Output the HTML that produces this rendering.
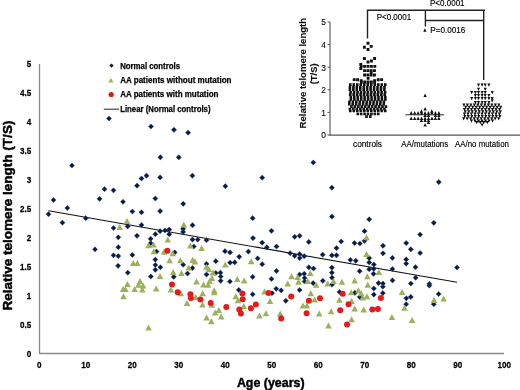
<!DOCTYPE html>
<html><head><meta charset="utf-8"><style>
html,body{margin:0;padding:0;background:#fff;width:520px;height:390px;overflow:hidden}
svg{display:block;filter:blur(0.35px)}
text{font-family:"Liberation Sans", sans-serif}
.tk{font-size:8.8px;font-weight:bold;fill:#000;stroke:#000;stroke-width:0.25}
.at{font-size:13.2px;font-weight:bold;fill:#000;stroke:#000;stroke-width:0.45}
.lg{font-size:8.8px;font-weight:bold;fill:#000;stroke:#000;stroke-width:0.25}
.it{font-size:8.4px;fill:#000;stroke:#000;stroke-width:0.1}
.ititle{font-size:9.6px;font-weight:bold;fill:#111;stroke:#111;stroke-width:0.12}
.il{font-size:8.8px;fill:#000;stroke:#000;stroke-width:0.15}
.ip{font-size:9.2px;fill:#000;stroke:#000;stroke-width:0.15}
</style></head><body>
<svg width="520" height="390" viewBox="0 0 520 390">
<rect width="520" height="390" fill="#fff"/>
<line x1="39.5" y1="63.9" x2="39.5" y2="354" stroke="#8a8a8a" stroke-width="1.3"/>
<line x1="39" y1="353.5" x2="504" y2="353.5" stroke="#8a8a8a" stroke-width="1.3"/>
<text x="31.3" y="356.9" text-anchor="end" class="tk" transform="translate(31.3,0) scale(0.92,1) translate(-31.3,0)">0</text>
<text x="31.3" y="327.9" text-anchor="end" class="tk" transform="translate(31.3,0) scale(0.92,1) translate(-31.3,0)">0.5</text>
<text x="31.3" y="299.0" text-anchor="end" class="tk" transform="translate(31.3,0) scale(0.92,1) translate(-31.3,0)">1</text>
<text x="31.3" y="270.0" text-anchor="end" class="tk" transform="translate(31.3,0) scale(0.92,1) translate(-31.3,0)">1.5</text>
<text x="31.3" y="241.1" text-anchor="end" class="tk" transform="translate(31.3,0) scale(0.92,1) translate(-31.3,0)">2</text>
<text x="31.3" y="212.2" text-anchor="end" class="tk" transform="translate(31.3,0) scale(0.92,1) translate(-31.3,0)">2.5</text>
<text x="31.3" y="183.2" text-anchor="end" class="tk" transform="translate(31.3,0) scale(0.92,1) translate(-31.3,0)">3</text>
<text x="31.3" y="154.2" text-anchor="end" class="tk" transform="translate(31.3,0) scale(0.92,1) translate(-31.3,0)">3.5</text>
<text x="31.3" y="125.3" text-anchor="end" class="tk" transform="translate(31.3,0) scale(0.92,1) translate(-31.3,0)">4</text>
<text x="31.3" y="96.3" text-anchor="end" class="tk" transform="translate(31.3,0) scale(0.92,1) translate(-31.3,0)">4.5</text>
<text x="31.3" y="67.4" text-anchor="end" class="tk" transform="translate(31.3,0) scale(0.92,1) translate(-31.3,0)">5</text>
<text x="39.2" y="368.5" text-anchor="middle" class="tk" transform="translate(39.2,0) scale(0.92,1) translate(-39.2,0)">0</text>
<text x="85.7" y="368.5" text-anchor="middle" class="tk" transform="translate(85.7,0) scale(0.92,1) translate(-85.7,0)">10</text>
<text x="132.2" y="368.5" text-anchor="middle" class="tk" transform="translate(132.2,0) scale(0.92,1) translate(-132.2,0)">20</text>
<text x="178.7" y="368.5" text-anchor="middle" class="tk" transform="translate(178.7,0) scale(0.92,1) translate(-178.7,0)">30</text>
<text x="225.2" y="368.5" text-anchor="middle" class="tk" transform="translate(225.2,0) scale(0.92,1) translate(-225.2,0)">40</text>
<text x="271.7" y="368.5" text-anchor="middle" class="tk" transform="translate(271.7,0) scale(0.92,1) translate(-271.7,0)">50</text>
<text x="318.2" y="368.5" text-anchor="middle" class="tk" transform="translate(318.2,0) scale(0.92,1) translate(-318.2,0)">60</text>
<text x="364.7" y="368.5" text-anchor="middle" class="tk" transform="translate(364.7,0) scale(0.92,1) translate(-364.7,0)">70</text>
<text x="411.2" y="368.5" text-anchor="middle" class="tk" transform="translate(411.2,0) scale(0.92,1) translate(-411.2,0)">80</text>
<text x="457.7" y="368.5" text-anchor="middle" class="tk" transform="translate(457.7,0) scale(0.92,1) translate(-457.7,0)">90</text>
<text x="504.2" y="368.5" text-anchor="middle" class="tk" transform="translate(504.2,0) scale(0.92,1) translate(-504.2,0)">100</text>
<text x="236.9" y="387.3" class="at" textLength="67.7" lengthAdjust="spacingAndGlyphs">Age (years)</text>
<text transform="translate(11.6,310.6) rotate(-90)" x="0" y="0" class="at" textLength="190" lengthAdjust="spacingAndGlyphs">Relative telomere length (T/S)</text>
<path d="M111.5,63.4 L113.7,65.6 L111.5,67.8 L109.3,65.6 Z" fill="#0d1a3a"/>
<path d="M110.9,78.0 L113.5,82.6 L108.3,82.6 Z" fill="#9bb45e"/>
<circle cx="111.2" cy="94.5" r="2.6" fill="#e01818"/>
<line x1="103.8" y1="109.2" x2="119.2" y2="109.2" stroke="#222" stroke-width="1"/>
<text x="120.2" y="68.6" class="lg" textLength="59.8" lengthAdjust="spacingAndGlyphs">Normal controls</text>
<text x="120.2" y="82.9" class="lg" textLength="111.3" lengthAdjust="spacingAndGlyphs">AA patients without mutation</text>
<text x="120.2" y="97.2" class="lg" textLength="98.3" lengthAdjust="spacingAndGlyphs">AA patients with mutation</text>
<text x="120.2" y="111.5" class="lg" textLength="90.3" lengthAdjust="spacingAndGlyphs">Linear (Normal controls)</text>
<line x1="48.5" y1="210.8" x2="457" y2="282.3" stroke="#111" stroke-width="1.1"/>
<path fill="#0c1a40" stroke="#22427a" stroke-width="0.5" d="M109.0,116.0L111.5,118.5L109.0,121.0L106.5,118.5ZM151.0,124.0L153.6,126.5L151.0,129.1L148.4,126.5ZM174.0,127.3L176.6,129.8L174.0,132.4L171.4,129.8ZM188.1,130.1L190.7,132.7L188.1,135.2L185.5,132.7ZM160.4,154.8L163.0,157.3L160.4,159.9L157.8,157.3ZM178.8,154.8L181.4,157.3L178.8,159.9L176.2,157.3ZM313.3,159.9L315.9,162.5L313.3,165.1L310.8,162.5ZM71.9,162.9L74.5,165.5L71.9,168.1L69.4,165.5ZM141.5,175.9L144.1,178.5L141.5,181.1L138.9,178.5ZM146.5,173.1L149.1,175.7L146.5,178.2L143.9,175.7ZM160.1,174.8L162.7,177.4L160.1,180.0L157.5,177.4ZM192.4,173.1L195.0,175.7L192.4,178.2L189.8,175.7ZM137.0,183.1L139.6,185.7L137.0,188.2L134.4,185.7ZM104.5,186.6L107.0,189.2L104.5,191.8L102.0,189.2ZM113.5,187.8L116.0,190.3L113.5,192.9L111.0,190.3ZM53.5,197.4L56.0,200.0L53.5,202.6L51.0,200.0ZM99.6,196.2L102.1,198.8L99.6,201.4L97.0,198.8ZM123.0,199.2L125.5,201.8L123.0,204.4L120.5,201.8ZM155.3,195.9L157.9,198.5L155.3,201.1L152.8,198.5ZM183.2,201.2L185.8,203.8L183.2,206.4L180.6,203.8ZM67.3,205.4L69.8,208.0L67.3,210.6L64.8,208.0ZM132.4,208.9L135.0,211.5L132.4,214.1L129.8,211.5ZM141.5,209.8L144.1,212.3L141.5,214.9L138.9,212.3ZM160.1,208.5L162.7,211.1L160.1,213.7L157.5,211.1ZM48.5,211.6L51.0,214.2L48.5,216.8L46.0,214.2ZM85.8,215.6L88.3,218.2L85.8,220.8L83.2,218.2ZM225.3,183.6L227.9,186.2L225.3,188.8L222.8,186.2ZM262.2,175.1L264.8,177.7L262.2,180.2L259.6,177.7ZM252.7,215.6L255.2,218.2L252.7,220.8L250.1,218.2ZM331.9,185.1L334.4,187.7L331.9,190.2L329.3,187.7ZM331.9,214.0L334.4,216.6L331.9,219.2L329.3,216.6ZM438.8,179.5L441.4,182.1L438.8,184.7L436.2,182.1ZM62.4,220.1L65.0,222.7L62.4,225.2L59.9,222.7ZM113.5,225.4L116.0,228.0L113.5,230.6L111.0,228.0ZM95.0,246.8L97.5,249.3L95.0,251.9L92.5,249.3ZM113.5,252.8L116.0,255.3L113.5,257.9L111.0,255.3ZM127.6,223.8L130.2,226.4L127.6,229.0L125.0,226.4ZM141.5,222.4L144.1,225.0L141.5,227.6L138.9,225.0ZM160.1,228.6L162.7,231.2L160.1,233.8L157.5,231.2ZM165.0,227.8L167.6,230.4L165.0,233.0L162.4,230.4ZM169.2,227.0L171.8,229.6L169.2,232.2L166.6,229.6ZM169.2,231.6L171.8,234.2L169.2,236.8L166.6,234.2ZM183.1,226.2L185.7,228.8L183.1,231.4L180.5,228.8ZM183.1,229.3L185.7,231.9L183.1,234.5L180.5,231.9ZM192.5,222.6L195.1,225.2L192.5,227.8L189.9,225.2ZM155.3,231.6L157.9,234.2L155.3,236.8L152.8,234.2ZM137.0,233.2L139.6,235.8L137.0,238.4L134.4,235.8ZM118.3,234.8L120.8,237.3L118.3,239.9L115.8,237.3ZM150.7,236.2L153.2,238.8L150.7,241.4L148.1,238.8ZM150.7,240.6L153.2,243.2L150.7,245.8L148.1,243.2ZM192.5,237.0L195.1,239.6L192.5,242.2L189.9,239.6ZM197.7,237.0L200.2,239.6L197.7,242.2L195.1,239.6ZM206.5,237.6L209.1,240.2L206.5,242.8L203.9,240.2ZM193.8,243.9L196.4,246.5L193.8,249.1L191.2,246.5ZM118.3,244.6L120.8,247.2L118.3,249.8L115.8,247.2ZM156.5,248.9L159.1,251.5L156.5,254.1L153.9,251.5ZM174.7,249.8L177.2,252.4L174.7,255.0L172.1,252.4ZM118.3,253.6L120.8,256.1L118.3,258.7L115.8,256.1ZM132.3,252.3L134.9,254.9L132.3,257.4L129.8,254.9ZM155.3,257.1L157.9,259.6L155.3,262.2L152.8,259.6ZM155.3,262.4L157.9,265.0L155.3,267.6L152.8,265.0ZM160.4,264.8L163.0,267.3L160.4,269.9L157.8,267.3ZM155.3,267.2L157.9,269.8L155.3,272.4L152.8,269.8ZM118.1,263.2L120.6,265.8L118.1,268.4L115.5,265.8ZM127.8,270.1L130.3,272.7L127.8,275.2L125.2,272.7ZM183.2,262.1L185.8,264.7L183.2,267.2L180.6,264.7ZM192.4,265.6L195.0,268.1L192.4,270.7L189.8,268.1ZM187.5,270.9L190.1,273.5L187.5,276.1L184.9,273.5ZM271.5,228.2L274.1,230.8L271.5,233.4L268.9,230.8ZM253.0,235.5L255.6,238.1L253.0,240.7L250.4,238.1ZM262.2,240.1L264.8,242.7L262.2,245.2L259.6,242.7ZM266.8,244.8L269.4,247.3L266.8,249.9L264.2,247.3ZM225.0,248.6L227.6,251.2L225.0,253.8L222.4,251.2ZM230.1,249.8L232.7,252.4L230.1,255.0L227.5,252.4ZM248.4,249.0L251.0,251.6L248.4,254.2L245.8,251.6ZM239.2,254.2L241.8,256.8L239.2,259.4L236.6,256.8ZM257.6,255.8L260.2,258.4L257.6,260.9L255.1,258.4ZM215.8,258.6L218.4,261.2L215.8,263.8L213.2,261.2ZM230.1,260.1L232.7,262.7L230.1,265.2L227.5,262.7ZM234.7,259.8L237.2,262.4L234.7,264.9L232.1,262.4ZM262.2,261.6L264.8,264.2L262.2,266.8L259.6,264.2ZM206.5,261.3L209.1,263.9L206.5,266.4L203.9,263.9ZM220.4,270.1L223.0,272.7L220.4,275.2L217.8,272.7ZM215.8,270.4L218.4,273.0L215.8,275.6L213.2,273.0ZM206.5,271.9L209.1,274.5L206.5,277.1L203.9,274.5ZM294.7,234.2L297.2,236.8L294.7,239.4L292.1,236.8ZM299.6,233.2L302.2,235.8L299.6,238.4L297.1,235.8ZM308.8,239.3L311.4,241.9L308.8,244.5L306.2,241.9ZM341.2,238.9L343.8,241.5L341.2,244.1L338.6,241.5ZM354.5,240.4L357.1,243.0L354.5,245.6L351.9,243.0ZM276.5,243.9L279.1,246.5L276.5,249.1L273.9,246.5ZM336.5,245.5L339.1,248.1L336.5,250.7L333.9,248.1ZM290.1,250.6L292.7,253.2L290.1,255.8L287.6,253.2ZM294.7,253.2L297.2,255.8L294.7,258.4L292.1,255.8ZM299.6,251.6L302.2,254.2L299.6,256.8L297.1,254.2ZM299.6,255.6L302.2,258.1L299.6,260.7L297.1,258.1ZM304.2,253.6L306.8,256.2L304.2,258.8L301.6,256.2ZM322.7,252.1L325.2,254.7L322.7,257.2L320.1,254.7ZM331.9,252.8L334.4,255.3L331.9,257.9L329.3,255.3ZM336.5,252.8L339.1,255.3L336.5,257.9L333.9,255.3ZM350.4,257.3L352.9,259.9L350.4,262.4L347.8,259.9ZM308.8,264.8L311.4,267.3L308.8,269.9L306.2,267.3ZM313.5,265.9L316.1,268.5L313.5,271.1L310.9,268.5ZM331.9,265.1L334.4,267.6L331.9,270.2L329.3,267.6ZM331.9,270.1L334.4,272.7L331.9,275.2L329.3,272.7ZM276.5,268.3L279.1,270.9L276.5,273.4L273.9,270.9ZM299.6,271.9L302.2,274.5L299.6,277.1L297.1,274.5ZM304.2,271.2L306.8,273.8L304.2,276.4L301.6,273.8ZM369.2,216.8L371.8,219.3L369.2,221.9L366.6,219.3ZM433.8,220.2L436.4,222.8L433.8,225.4L431.2,222.8ZM364.5,228.6L367.1,231.2L364.5,233.8L361.9,231.2ZM420.1,232.0L422.7,234.6L420.1,237.2L417.6,234.6ZM359.9,240.9L362.4,243.5L359.9,246.1L357.3,243.5ZM364.5,238.2L367.1,240.8L364.5,243.4L361.9,240.8ZM383.0,243.2L385.6,245.8L383.0,248.4L380.4,245.8ZM406.2,240.5L408.8,243.1L406.2,245.7L403.6,243.1ZM410.8,246.8L413.4,249.3L410.8,251.9L408.2,249.3ZM420.1,250.4L422.7,253.0L420.1,255.6L417.6,253.0ZM383.0,250.8L385.6,253.3L383.0,255.9L380.4,253.3ZM392.4,255.3L394.9,257.9L392.4,260.4L389.8,257.9ZM406.2,256.8L408.8,259.4L406.2,261.9L403.6,259.4ZM406.2,261.1L408.8,263.6L406.2,266.2L403.6,263.6ZM369.2,255.6L371.8,258.1L369.2,260.7L366.6,258.1ZM355.8,258.2L358.4,260.8L355.8,263.4L353.2,260.8ZM369.2,259.8L371.8,262.4L369.2,264.9L366.6,262.4ZM373.8,261.9L376.4,264.5L373.8,267.1L371.2,264.5ZM369.2,266.6L371.8,269.2L369.2,271.8L366.6,269.2ZM373.8,266.2L376.4,268.8L373.8,271.4L371.2,268.8ZM392.4,266.4L394.9,269.0L392.4,271.6L389.8,269.0ZM415.5,264.6L418.1,267.2L415.5,269.8L412.9,267.2ZM359.6,268.6L362.2,271.2L359.6,273.8L357.1,271.2ZM457.0,264.9L459.6,267.5L457.0,270.1L454.4,267.5ZM415.6,275.1L418.2,277.7L415.6,280.2L413.1,277.7ZM392.5,277.8L395.1,280.4L392.5,282.9L389.9,280.4ZM382.9,280.9L385.4,283.5L382.9,286.1L380.3,283.5ZM382.9,284.1L385.4,286.7L382.9,289.2L380.3,286.7ZM410.8,280.9L413.4,283.5L410.8,286.1L408.2,283.5ZM429.4,281.2L431.9,283.8L429.4,286.4L426.8,283.8ZM429.4,283.1L431.9,285.6L429.4,288.2L426.8,285.6ZM382.9,290.6L385.4,293.1L382.9,295.7L380.3,293.1ZM438.7,291.4L441.2,294.0L438.7,296.6L436.1,294.0ZM406.3,295.8L408.9,298.3L406.3,300.9L403.8,298.3ZM410.8,294.3L413.4,296.9L410.8,299.4L408.2,296.9ZM150.8,273.9L153.4,276.5L150.8,279.1L148.2,276.5ZM173.8,274.3L176.4,276.9L173.8,279.4L171.2,276.9ZM220.7,273.9L223.2,276.5L220.7,279.1L218.1,276.5ZM220.7,278.2L223.2,280.8L220.7,283.4L218.1,280.8ZM229.9,278.9L232.5,281.5L229.9,284.1L227.3,281.5ZM252.7,274.3L255.2,276.9L252.7,279.4L250.1,276.9ZM238.8,287.4L241.4,290.0L238.8,292.6L236.2,290.0ZM252.7,291.8L255.2,294.3L252.7,296.9L250.1,294.3ZM271.5,276.3L274.1,278.9L271.5,281.4L268.9,278.9ZM304.6,275.4L307.2,278.0L304.6,280.6L302.1,278.0ZM304.6,278.9L307.2,281.5L304.6,284.1L302.1,281.5ZM313.1,280.6L315.7,283.1L313.1,285.7L310.6,283.1ZM322.8,278.2L325.4,280.8L322.8,283.4L320.2,280.8ZM332.0,275.1L334.6,277.7L332.0,280.2L329.4,277.7ZM332.0,282.1L334.6,284.6L332.0,287.2L329.4,284.6ZM276.2,286.2L278.8,288.8L276.2,291.4L273.6,288.8ZM281.1,287.8L283.7,290.3L281.1,292.9L278.6,290.3ZM272.0,290.6L274.6,293.1L272.0,295.7L269.4,293.1ZM299.7,287.4L302.2,290.0L299.7,292.6L297.1,290.0ZM285.8,298.2L288.4,300.8L285.8,303.4L283.2,300.8ZM339.5,289.4L342.1,292.0L339.5,294.6L336.9,292.0ZM373.5,271.2L376.1,273.8L373.5,276.4L370.9,273.8ZM378.5,280.6L381.1,283.1L378.5,285.7L375.9,283.1ZM373.8,285.9L376.4,288.5L373.8,291.1L371.2,288.5ZM373.8,292.1L376.4,294.6L373.8,297.2L371.2,294.6ZM355.0,290.2L357.6,292.8L355.0,295.4L352.4,292.8ZM359.6,294.3L362.2,296.9L359.6,299.4L357.1,296.9ZM406.1,301.6L408.7,304.2L406.1,306.8L403.6,304.2ZM433.8,301.6L436.4,304.2L433.8,306.8L431.2,304.2Z"/>
<path fill="#9bb15c" d="M127.0,218.1L130.3,224.1L123.7,224.1ZM119.7,223.9L123.0,229.9L116.4,229.9ZM183.8,221.6L187.1,227.6L180.5,227.6ZM167.8,236.5L171.1,242.5L164.5,242.5ZM148.5,242.2L151.8,248.2L145.2,248.2ZM153.5,241.4L156.8,247.4L150.2,247.4ZM153.9,248.3L157.2,254.3L150.6,254.3ZM164.0,248.8L167.3,254.8L160.7,254.8ZM172.7,250.2L176.0,256.2L169.4,256.2ZM169.6,257.2L172.9,263.2L166.3,263.2ZM180.4,257.2L183.7,263.2L177.1,263.2ZM190.4,242.6L193.7,248.6L187.1,248.6ZM133.2,259.9L136.5,265.9L129.9,265.9ZM137.3,259.9L140.6,265.9L134.0,265.9ZM188.8,264.5L192.1,270.5L185.5,270.5ZM192.7,256.8L196.0,262.8L189.4,262.8ZM173.2,269.1L176.5,275.1L169.9,275.1ZM181.5,269.9L184.8,275.9L178.2,275.9ZM201.6,244.9L204.9,250.9L198.3,250.9ZM225.3,261.4L228.6,267.4L222.0,267.4ZM251.2,258.3L254.5,264.3L247.9,264.3ZM195.0,258.4L198.3,264.4L191.7,264.4ZM206.5,263.7L209.8,269.7L203.2,269.7ZM208.8,266.0L212.1,272.0L205.5,272.0ZM213.0,269.6L216.3,275.6L209.7,275.6ZM310.3,269.9L313.6,275.9L307.0,275.9ZM366.5,234.2L369.8,240.2L363.2,240.2ZM366.5,251.1L369.8,257.1L363.2,257.1ZM378.8,268.9L382.1,274.9L375.5,274.9ZM402.1,289.1L405.4,295.1L398.8,295.1ZM434.0,296.9L437.3,302.9L430.7,302.9ZM443.6,295.4L446.9,301.4L440.3,301.4ZM160.0,272.9L163.3,278.9L156.7,278.9ZM127.4,281.0L130.7,287.0L124.1,287.0ZM123.1,286.1L126.4,292.1L119.8,292.1ZM125.4,286.1L128.7,292.1L122.1,292.1ZM123.5,293.3L126.8,299.3L120.2,299.3ZM134.6,286.1L137.9,292.1L131.3,292.1ZM140.0,277.9L143.3,283.9L136.7,283.9ZM138.5,281.8L141.8,287.8L135.2,287.8ZM143.1,282.6L146.4,288.6L139.8,288.6ZM142.3,286.4L145.6,292.4L139.0,292.4ZM156.2,285.6L159.5,291.6L152.9,291.6ZM170.8,286.4L174.1,292.4L167.5,292.4ZM180.8,290.2L184.1,296.2L177.5,296.2ZM187.0,299.9L190.3,305.9L183.7,305.9ZM148.5,324.4L151.8,330.4L145.2,330.4ZM196.5,278.4L199.8,284.4L193.2,284.4ZM203.5,281.5L206.8,287.5L200.2,287.5ZM208.1,281.8L211.4,287.8L204.8,287.8ZM209.6,277.9L212.9,283.9L206.3,283.9ZM211.9,274.9L215.2,280.9L208.6,280.9ZM214.2,287.2L217.5,293.2L210.9,293.2ZM214.2,289.2L217.5,295.2L210.9,295.2ZM202.7,290.2L206.0,296.2L199.4,296.2ZM195.8,294.1L199.1,300.1L192.5,300.1ZM202.5,301.6L205.8,307.6L199.2,307.6ZM211.9,301.8L215.2,307.8L208.6,307.8ZM237.3,275.9L240.6,281.9L234.0,281.9ZM244.2,277.5L247.5,283.5L240.9,283.5ZM235.8,293.3L239.1,299.3L232.5,299.3ZM238.1,297.2L241.4,303.2L234.8,303.2ZM243.8,302.9L247.1,308.9L240.5,308.9ZM215.2,309.5L218.5,315.5L211.9,315.5ZM218.8,307.0L222.1,313.0L215.5,313.0ZM221.2,313.5L224.5,319.5L217.9,319.5ZM206.6,314.5L209.9,320.5L203.3,320.5ZM211.3,318.2L214.6,324.2L208.0,324.2ZM259.4,312.6L262.7,318.6L256.1,318.6ZM264.5,288.4L267.8,294.4L261.2,294.4ZM291.5,273.3L294.8,279.3L288.2,279.3ZM297.7,274.1L301.0,280.1L294.4,280.1ZM298.5,278.7L301.8,284.7L295.2,284.7ZM287.7,280.6L291.0,286.6L284.4,286.6ZM307.7,277.9L311.0,283.9L304.4,283.9ZM316.2,281.8L319.5,287.8L312.9,287.8ZM327.7,280.6L331.0,286.6L324.4,286.6ZM333.5,277.9L336.8,283.9L330.2,283.9ZM270.0,297.9L273.3,303.9L266.7,303.9ZM310.8,290.2L314.1,296.2L307.5,296.2ZM314.6,296.4L317.9,302.4L311.3,302.4ZM303.0,302.4L306.3,308.4L299.7,308.4ZM306.8,302.4L310.1,308.4L303.5,308.4ZM266.0,310.2L269.3,316.2L262.7,316.2ZM280.2,310.6L283.5,316.6L276.9,316.6ZM319.2,310.6L322.5,316.6L315.9,316.6ZM331.1,308.2L334.4,314.2L327.8,314.2ZM328.5,322.5L331.8,328.5L325.2,328.5ZM339.4,296.7L342.7,302.7L336.1,302.7ZM341.9,278.7L345.2,284.7L338.6,284.7ZM354.7,277.5L358.0,283.5L351.4,283.5ZM367.3,273.3L370.6,279.3L364.0,279.3ZM367.8,281.8L371.1,287.8L364.5,287.8ZM351.2,289.2L354.5,295.2L347.9,295.2ZM358.4,287.2L361.7,293.2L355.1,293.2ZM361.2,290.2L364.5,296.2L357.9,296.2ZM362.7,294.4L366.0,300.4L359.4,300.4ZM367.0,293.3L370.3,299.3L363.7,299.3ZM351.6,297.9L354.9,303.9L348.3,303.9ZM354.7,305.4L358.0,311.4L351.4,311.4ZM363.7,306.4L367.0,312.4L360.4,312.4ZM404.5,304.8L407.8,310.8L401.2,310.8ZM391.9,314.0L395.2,320.0L388.6,320.0ZM351.6,316.3L354.9,322.3L348.3,322.3ZM412.1,317.0L415.4,323.0L408.8,323.0Z"/>
<circle cx="167.3" cy="250.7" r="3.0" fill="#e41a1c"/>
<circle cx="172" cy="284.6" r="3.0" fill="#e41a1c"/>
<circle cx="177.7" cy="292.3" r="3.0" fill="#e41a1c"/>
<circle cx="190.4" cy="294.3" r="3.0" fill="#e41a1c"/>
<circle cx="190.8" cy="298" r="3.0" fill="#e41a1c"/>
<circle cx="200.4" cy="299.5" r="3.0" fill="#e41a1c"/>
<circle cx="210.7" cy="302.9" r="3.0" fill="#e41a1c"/>
<circle cx="226.3" cy="307" r="3.0" fill="#e41a1c"/>
<circle cx="242.4" cy="293.4" r="3.0" fill="#e41a1c"/>
<circle cx="242.7" cy="299.2" r="3.0" fill="#e41a1c"/>
<circle cx="239.3" cy="309.5" r="3.0" fill="#e41a1c"/>
<circle cx="240.9" cy="313.5" r="3.0" fill="#e41a1c"/>
<circle cx="250.9" cy="308.2" r="3.0" fill="#e41a1c"/>
<circle cx="255.8" cy="304.4" r="3.0" fill="#e41a1c"/>
<circle cx="268.5" cy="293.1" r="3.0" fill="#e41a1c"/>
<circle cx="291.2" cy="296.5" r="3.0" fill="#e41a1c"/>
<circle cx="308.9" cy="300.8" r="3.0" fill="#e41a1c"/>
<circle cx="320" cy="298.2" r="3.0" fill="#e41a1c"/>
<circle cx="306.6" cy="313.3" r="3.0" fill="#e41a1c"/>
<circle cx="281.2" cy="318.6" r="3.0" fill="#e41a1c"/>
<circle cx="340.2" cy="310.3" r="3.0" fill="#e41a1c"/>
<circle cx="342.7" cy="293.8" r="3.0" fill="#e41a1c"/>
<circle cx="348.5" cy="304.2" r="3.0" fill="#e41a1c"/>
<circle cx="372.3" cy="309.6" r="3.0" fill="#e41a1c"/>
<circle cx="377.9" cy="309.1" r="3.0" fill="#e41a1c"/>
<circle cx="380.9" cy="298" r="3.0" fill="#e41a1c"/>
<circle cx="347" cy="324.6" r="3.0" fill="#e41a1c"/>
<line x1="330" y1="22" x2="330" y2="135.6" stroke="#555" stroke-width="1.1"/>
<line x1="329.5" y1="135.1" x2="520" y2="135.1" stroke="#555" stroke-width="1.1"/>
<line x1="327.5" y1="135.0" x2="330" y2="135.0" stroke="#555" stroke-width="1"/>
<text x="326" y="138.4" text-anchor="end" class="it">0</text>
<line x1="327.5" y1="112.4" x2="330" y2="112.4" stroke="#555" stroke-width="1"/>
<text x="326" y="115.8" text-anchor="end" class="it">1</text>
<line x1="327.5" y1="89.8" x2="330" y2="89.8" stroke="#555" stroke-width="1"/>
<text x="326" y="93.2" text-anchor="end" class="it">2</text>
<line x1="327.5" y1="67.2" x2="330" y2="67.2" stroke="#555" stroke-width="1"/>
<text x="326" y="70.6" text-anchor="end" class="it">3</text>
<line x1="327.5" y1="44.6" x2="330" y2="44.6" stroke="#555" stroke-width="1"/>
<text x="326" y="48.0" text-anchor="end" class="it">4</text>
<line x1="327.5" y1="22.0" x2="330" y2="22.0" stroke="#555" stroke-width="1"/>
<text x="326" y="25.4" text-anchor="end" class="it">5</text>
<text transform="translate(305.9,128.4) rotate(-90)" class="ititle" textLength="110.5" lengthAdjust="spacingAndGlyphs">Relative telomere length</text>
<text transform="translate(316.6,84.3) rotate(-90)" class="ititle" textLength="21" lengthAdjust="spacingAndGlyphs">(T/S)</text>
<text x="353" y="146.7" class="il" textLength="29" lengthAdjust="spacingAndGlyphs">controls</text>
<text x="401.3" y="146.7" class="il" textLength="46.9" lengthAdjust="spacingAndGlyphs">AA/mutations</text>
<text x="455" y="146.7" class="il" textLength="53.9" lengthAdjust="spacingAndGlyphs">AA/no mutation</text>
<path d="M367.5,38.6 V10.3 H485 M483.7,10.3 V80" fill="none" stroke="#222" stroke-width="1.4"/>
<path d="M425.4,10.3 V26.5 M425.4,20.5 H483.7" fill="none" stroke="#222" stroke-width="1.4"/>
<text x="430" y="6.2" class="ip" textLength="34.6" lengthAdjust="spacingAndGlyphs">P&lt;0.0001</text>
<text x="376.7" y="20.2" class="ip" textLength="34.5" lengthAdjust="spacingAndGlyphs">P&lt;0.0001</text>
<text x="430.3" y="33" class="ip" textLength="35" lengthAdjust="spacingAndGlyphs">P=0.0016</text>
<path fill="#111" d="M366.55,41.75h2.9v2.9h-2.9zM362.95,45.85h2.9v2.9h-2.9zM369.75,44.95h2.9v2.9h-2.9zM366.55,48.05h2.9v2.9h-2.9zM362.95,57.05h2.9v2.9h-2.9zM373.15,57.05h2.9v2.9h-2.9zM366.55,60.55h2.9v2.9h-2.9zM369.95,59.55h2.9v2.9h-2.9zM359.75,64.95h2.9v2.9h-2.9zM363.15,64.95h2.9v2.9h-2.9zM366.55,64.95h2.9v2.9h-2.9zM369.95,64.95h2.9v2.9h-2.9zM373.35,64.95h2.9v2.9h-2.9zM359.35,67.05h2.9v2.9h-2.9zM359.35,63.05h2.9v2.9h-2.9zM363.10,69.15h2.9v2.9h-2.9zM366.40,69.15h2.9v2.9h-2.9zM369.70,69.15h2.9v2.9h-2.9zM373.00,69.15h2.9v2.9h-2.9zM369.75,70.55h2.9v2.9h-2.9zM363.10,73.55h2.9v2.9h-2.9zM366.40,73.55h2.9v2.9h-2.9zM369.70,73.55h2.9v2.9h-2.9zM373.00,73.55h2.9v2.9h-2.9zM366.65,76.95h2.9v2.9h-2.9zM352.75,78.15h2.9v2.9h-2.9zM356.15,78.35h2.9v2.9h-2.9zM376.75,78.35h2.9v2.9h-2.9zM380.15,78.15h2.9v2.9h-2.9zM359.75,79.35h2.9v2.9h-2.9zM373.15,79.35h2.9v2.9h-2.9zM359.95,80.55h2.9v2.9h-2.9zM363.25,80.55h2.9v2.9h-2.9zM366.55,80.55h2.9v2.9h-2.9zM369.85,80.55h2.9v2.9h-2.9zM373.15,80.55h2.9v2.9h-2.9zM349.00,83.30h2.6v2.6h-2.6zM352.50,83.30h2.6v2.6h-2.6zM356.00,83.30h2.6v2.6h-2.6zM359.50,83.30h2.6v2.6h-2.6zM363.00,83.30h2.6v2.6h-2.6zM366.50,83.30h2.6v2.6h-2.6zM370.00,83.30h2.6v2.6h-2.6zM373.50,83.30h2.6v2.6h-2.6zM377.00,83.30h2.6v2.6h-2.6zM380.50,83.30h2.6v2.6h-2.6zM384.00,83.30h2.6v2.6h-2.6zM348.65,86.10h2.6v2.6h-2.6zM352.10,86.10h2.6v2.6h-2.6zM355.55,86.10h2.6v2.6h-2.6zM359.00,86.10h2.6v2.6h-2.6zM362.45,86.10h2.6v2.6h-2.6zM365.90,86.10h2.6v2.6h-2.6zM369.35,86.10h2.6v2.6h-2.6zM372.80,86.10h2.6v2.6h-2.6zM376.25,86.10h2.6v2.6h-2.6zM379.70,86.10h2.6v2.6h-2.6zM383.15,86.10h2.6v2.6h-2.6zM348.57,88.50h2.6v2.6h-2.6zM352.02,88.50h2.6v2.6h-2.6zM355.47,88.50h2.6v2.6h-2.6zM358.92,88.50h2.6v2.6h-2.6zM362.37,88.50h2.6v2.6h-2.6zM365.82,88.50h2.6v2.6h-2.6zM369.27,88.50h2.6v2.6h-2.6zM372.72,88.50h2.6v2.6h-2.6zM376.17,88.50h2.6v2.6h-2.6zM379.62,88.50h2.6v2.6h-2.6zM383.07,88.50h2.6v2.6h-2.6zM349.36,90.90h2.6v2.6h-2.6zM352.81,90.90h2.6v2.6h-2.6zM356.26,90.90h2.6v2.6h-2.6zM359.71,90.90h2.6v2.6h-2.6zM363.16,90.90h2.6v2.6h-2.6zM366.61,90.90h2.6v2.6h-2.6zM370.06,90.90h2.6v2.6h-2.6zM373.51,90.90h2.6v2.6h-2.6zM376.96,90.90h2.6v2.6h-2.6zM380.41,90.90h2.6v2.6h-2.6zM383.86,90.90h2.6v2.6h-2.6zM348.91,93.30h2.6v2.6h-2.6zM352.36,93.30h2.6v2.6h-2.6zM355.81,93.30h2.6v2.6h-2.6zM359.26,93.30h2.6v2.6h-2.6zM362.71,93.30h2.6v2.6h-2.6zM366.16,93.30h2.6v2.6h-2.6zM369.61,93.30h2.6v2.6h-2.6zM373.06,93.30h2.6v2.6h-2.6zM376.51,93.30h2.6v2.6h-2.6zM379.96,93.30h2.6v2.6h-2.6zM383.41,93.30h2.6v2.6h-2.6zM349.52,95.70h2.6v2.6h-2.6zM352.97,95.70h2.6v2.6h-2.6zM356.42,95.70h2.6v2.6h-2.6zM359.87,95.70h2.6v2.6h-2.6zM363.32,95.70h2.6v2.6h-2.6zM366.77,95.70h2.6v2.6h-2.6zM370.22,95.70h2.6v2.6h-2.6zM373.67,95.70h2.6v2.6h-2.6zM377.12,95.70h2.6v2.6h-2.6zM380.57,95.70h2.6v2.6h-2.6zM384.02,95.70h2.6v2.6h-2.6zM349.58,98.10h2.6v2.6h-2.6zM353.03,98.10h2.6v2.6h-2.6zM356.48,98.10h2.6v2.6h-2.6zM359.93,98.10h2.6v2.6h-2.6zM363.38,98.10h2.6v2.6h-2.6zM366.83,98.10h2.6v2.6h-2.6zM370.28,98.10h2.6v2.6h-2.6zM373.73,98.10h2.6v2.6h-2.6zM377.18,98.10h2.6v2.6h-2.6zM380.63,98.10h2.6v2.6h-2.6zM384.08,98.10h2.6v2.6h-2.6zM348.12,100.50h2.6v2.6h-2.6zM351.57,100.50h2.6v2.6h-2.6zM355.02,100.50h2.6v2.6h-2.6zM358.47,100.50h2.6v2.6h-2.6zM361.92,100.50h2.6v2.6h-2.6zM365.37,100.50h2.6v2.6h-2.6zM368.82,100.50h2.6v2.6h-2.6zM372.27,100.50h2.6v2.6h-2.6zM375.72,100.50h2.6v2.6h-2.6zM379.17,100.50h2.6v2.6h-2.6zM382.62,100.50h2.6v2.6h-2.6zM347.98,102.90h2.6v2.6h-2.6zM351.43,102.90h2.6v2.6h-2.6zM354.88,102.90h2.6v2.6h-2.6zM358.33,102.90h2.6v2.6h-2.6zM361.78,102.90h2.6v2.6h-2.6zM365.23,102.90h2.6v2.6h-2.6zM368.68,102.90h2.6v2.6h-2.6zM372.13,102.90h2.6v2.6h-2.6zM375.58,102.90h2.6v2.6h-2.6zM379.03,102.90h2.6v2.6h-2.6zM382.48,102.90h2.6v2.6h-2.6zM350.13,105.30h2.6v2.6h-2.6zM353.58,105.30h2.6v2.6h-2.6zM357.03,105.30h2.6v2.6h-2.6zM360.48,105.30h2.6v2.6h-2.6zM363.93,105.30h2.6v2.6h-2.6zM367.38,105.30h2.6v2.6h-2.6zM370.83,105.30h2.6v2.6h-2.6zM374.28,105.30h2.6v2.6h-2.6zM377.73,105.30h2.6v2.6h-2.6zM381.18,105.30h2.6v2.6h-2.6zM384.63,105.30h2.6v2.6h-2.6zM348.62,107.70h2.6v2.6h-2.6zM352.07,107.70h2.6v2.6h-2.6zM355.52,107.70h2.6v2.6h-2.6zM358.97,107.70h2.6v2.6h-2.6zM362.42,107.70h2.6v2.6h-2.6zM365.87,107.70h2.6v2.6h-2.6zM369.32,107.70h2.6v2.6h-2.6zM372.77,107.70h2.6v2.6h-2.6zM376.22,107.70h2.6v2.6h-2.6zM379.67,107.70h2.6v2.6h-2.6zM383.12,107.70h2.6v2.6h-2.6zM349.00,109.70h2.6v2.6h-2.6zM352.50,109.70h2.6v2.6h-2.6zM356.00,109.70h2.6v2.6h-2.6zM359.50,109.70h2.6v2.6h-2.6zM363.00,109.70h2.6v2.6h-2.6zM366.50,109.70h2.6v2.6h-2.6zM370.00,109.70h2.6v2.6h-2.6zM373.50,109.70h2.6v2.6h-2.6zM377.00,109.70h2.6v2.6h-2.6zM380.50,109.70h2.6v2.6h-2.6zM384.00,109.70h2.6v2.6h-2.6zM356.50,112.70h2.6v2.6h-2.6zM359.90,112.70h2.6v2.6h-2.6zM363.30,112.70h2.6v2.6h-2.6zM366.70,112.70h2.6v2.6h-2.6zM370.10,112.70h2.6v2.6h-2.6zM373.50,112.70h2.6v2.6h-2.6zM376.90,112.70h2.6v2.6h-2.6zM365.20,115.30h2.6v2.6h-2.6zM369.00,115.30h2.6v2.6h-2.6z"/>
<path fill="#111" d="M424.90,28.32L426.55,31.79L423.25,31.79ZM425.10,93.42L426.75,96.89L423.45,96.89ZM425.10,106.92L426.75,110.39L423.45,110.39ZM421.40,109.32L423.05,112.78L419.75,112.78ZM431.80,109.32L433.45,112.78L430.15,112.78ZM411.20,111.02L412.85,114.48L409.55,114.48ZM414.66,111.02L416.31,114.48L413.01,114.48ZM418.12,111.02L419.77,114.48L416.47,114.48ZM421.58,111.02L423.23,114.48L419.93,114.48ZM425.04,111.02L426.69,114.48L423.39,114.48ZM428.50,111.02L430.15,114.48L426.85,114.48ZM431.96,111.02L433.61,114.48L430.31,114.48ZM435.42,111.02L437.07,114.48L433.77,114.48ZM438.88,111.02L440.53,114.48L437.23,114.48ZM425.10,113.62L426.75,117.08L423.45,117.08ZM428.50,113.62L430.15,117.08L426.85,117.08ZM435.40,113.62L437.05,117.08L433.75,117.08ZM438.90,113.62L440.55,117.08L437.25,117.08ZM411.20,116.52L412.85,119.98L409.55,119.98ZM414.66,116.52L416.31,119.98L413.01,119.98ZM418.12,116.52L419.77,119.98L416.47,119.98ZM421.58,116.52L423.23,119.98L419.93,119.98ZM425.04,116.52L426.69,119.98L423.39,119.98ZM428.50,116.52L430.15,119.98L426.85,119.98ZM431.96,116.52L433.61,119.98L430.31,119.98ZM435.42,116.52L437.07,119.98L433.77,119.98ZM438.88,116.52L440.53,119.98L437.23,119.98ZM421.40,118.42L423.05,121.89L419.75,121.89ZM425.10,118.42L426.75,121.89L423.45,121.89ZM428.50,118.42L430.15,121.89L426.85,121.89ZM428.50,120.52L430.15,123.98L426.85,123.98ZM425.10,123.02L426.75,126.48L423.45,126.48Z"/>
<line x1="405.4" y1="114.8" x2="444" y2="114.8" stroke="#111" stroke-width="0.9"/>
<path fill="#111" d="M478.50,86.76L480.05,83.51L476.95,83.51ZM482.10,86.76L483.65,83.51L480.55,83.51ZM485.20,86.76L486.75,83.51L483.65,83.51ZM488.90,86.76L490.45,83.51L487.35,83.51ZM478.50,91.06L480.05,87.81L476.95,87.81ZM485.20,91.06L486.75,87.81L483.65,87.81ZM471.70,94.16L473.25,90.91L470.15,90.91ZM475.40,94.16L476.95,90.91L473.85,90.91ZM478.50,94.16L480.05,90.91L476.95,90.91ZM482.10,94.16L483.65,90.91L480.55,90.91ZM485.20,94.16L486.75,90.91L483.65,90.91ZM492.20,94.16L493.75,90.91L490.65,90.91ZM475.40,97.26L476.95,94.01L473.85,94.01ZM478.50,97.26L480.05,94.01L476.95,94.01ZM482.10,97.26L483.65,94.01L480.55,94.01ZM485.20,97.26L486.75,94.01L483.65,94.01ZM488.90,97.26L490.45,94.01L487.35,94.01ZM471.70,100.36L473.25,97.11L470.15,97.11ZM475.40,100.36L476.95,97.11L473.85,97.11ZM478.50,100.36L480.05,97.11L476.95,97.11ZM482.10,100.36L483.65,97.11L480.55,97.11ZM485.20,100.36L486.75,97.11L483.65,97.11ZM488.90,100.36L490.45,97.11L487.35,97.11ZM492.20,100.36L493.75,97.11L490.65,97.11ZM492.20,102.46L493.75,99.20L490.65,99.20ZM475.40,104.16L476.95,100.91L473.85,100.91ZM478.50,104.16L480.05,100.91L476.95,100.91ZM482.10,104.16L483.65,100.91L480.55,100.91ZM485.20,104.16L486.75,100.91L483.65,100.91ZM488.90,104.16L490.45,100.91L487.35,100.91ZM463.86,106.66L465.41,103.41L462.31,103.41ZM467.36,106.66L468.91,103.41L465.81,103.41ZM470.86,106.66L472.41,103.41L469.31,103.41ZM474.36,106.66L475.91,103.41L472.81,103.41ZM477.86,106.66L479.41,103.41L476.31,103.41ZM481.36,106.66L482.91,103.41L479.81,103.41ZM484.86,106.66L486.41,103.41L483.31,103.41ZM488.36,106.66L489.91,103.41L486.81,103.41ZM491.86,106.66L493.41,103.41L490.31,103.41ZM495.36,106.66L496.91,103.41L493.81,103.41ZM498.86,106.66L500.41,103.41L497.31,103.41ZM465.69,108.96L467.24,105.70L464.14,105.70ZM469.19,108.96L470.74,105.70L467.64,105.70ZM472.69,108.96L474.24,105.70L471.14,105.70ZM476.19,108.96L477.74,105.70L474.64,105.70ZM479.69,108.96L481.24,105.70L478.14,105.70ZM483.19,108.96L484.74,105.70L481.64,105.70ZM486.69,108.96L488.24,105.70L485.14,105.70ZM490.19,108.96L491.74,105.70L488.64,105.70ZM493.69,108.96L495.24,105.70L492.14,105.70ZM497.19,108.96L498.74,105.70L495.64,105.70ZM500.69,108.96L502.24,105.70L499.14,105.70ZM464.43,111.26L465.98,108.00L462.88,108.00ZM467.93,111.26L469.48,108.00L466.38,108.00ZM471.43,111.26L472.98,108.00L469.88,108.00ZM474.93,111.26L476.48,108.00L473.38,108.00ZM478.43,111.26L479.98,108.00L476.88,108.00ZM481.93,111.26L483.48,108.00L480.38,108.00ZM485.43,111.26L486.98,108.00L483.88,108.00ZM488.93,111.26L490.48,108.00L487.38,108.00ZM492.43,111.26L493.98,108.00L490.88,108.00ZM495.93,111.26L497.48,108.00L494.38,108.00ZM499.43,111.26L500.98,108.00L497.88,108.00ZM465.31,113.56L466.86,110.30L463.76,110.30ZM468.81,113.56L470.36,110.30L467.26,110.30ZM472.31,113.56L473.86,110.30L470.76,110.30ZM475.81,113.56L477.36,110.30L474.26,110.30ZM479.31,113.56L480.86,110.30L477.76,110.30ZM482.81,113.56L484.36,110.30L481.26,110.30ZM486.31,113.56L487.86,110.30L484.76,110.30ZM489.81,113.56L491.36,110.30L488.26,110.30ZM493.31,113.56L494.86,110.30L491.76,110.30ZM496.81,113.56L498.36,110.30L495.26,110.30ZM500.31,113.56L501.86,110.30L498.76,110.30ZM464.44,115.86L465.99,112.60L462.89,112.60ZM467.94,115.86L469.49,112.60L466.39,112.60ZM471.44,115.86L472.99,112.60L469.89,112.60ZM474.94,115.86L476.49,112.60L473.39,112.60ZM478.44,115.86L479.99,112.60L476.89,112.60ZM481.94,115.86L483.49,112.60L480.39,112.60ZM485.44,115.86L486.99,112.60L483.89,112.60ZM488.94,115.86L490.49,112.60L487.39,112.60ZM492.44,115.86L493.99,112.60L490.89,112.60ZM495.94,115.86L497.49,112.60L494.39,112.60ZM499.44,115.86L500.99,112.60L497.89,112.60ZM464.83,118.16L466.38,114.90L463.28,114.90ZM468.33,118.16L469.88,114.90L466.78,114.90ZM471.83,118.16L473.38,114.90L470.28,114.90ZM475.33,118.16L476.88,114.90L473.78,114.90ZM478.83,118.16L480.38,114.90L477.28,114.90ZM482.33,118.16L483.88,114.90L480.78,114.90ZM485.83,118.16L487.38,114.90L484.28,114.90ZM489.33,118.16L490.88,114.90L487.78,114.90ZM492.83,118.16L494.38,114.90L491.28,114.90ZM496.33,118.16L497.88,114.90L494.78,114.90ZM499.83,118.16L501.38,114.90L498.28,114.90ZM463.66,120.46L465.21,117.20L462.11,117.20ZM467.16,120.46L468.71,117.20L465.61,117.20ZM470.66,120.46L472.21,117.20L469.11,117.20ZM474.16,120.46L475.71,117.20L472.61,117.20ZM477.66,120.46L479.21,117.20L476.11,117.20ZM481.16,120.46L482.71,117.20L479.61,117.20ZM484.66,120.46L486.21,117.20L483.11,117.20ZM488.16,120.46L489.71,117.20L486.61,117.20ZM491.66,120.46L493.21,117.20L490.11,117.20ZM495.16,120.46L496.71,117.20L493.61,117.20ZM498.66,120.46L500.21,117.20L497.11,117.20ZM471.50,122.86L473.05,119.61L469.95,119.61ZM475.00,122.86L476.55,119.61L473.45,119.61ZM478.50,122.86L480.05,119.61L476.95,119.61ZM482.00,122.86L483.55,119.61L480.45,119.61ZM485.50,122.86L487.05,119.61L483.95,119.61ZM489.00,122.86L490.55,119.61L487.45,119.61ZM492.50,122.86L494.05,119.61L490.95,119.61ZM476.75,124.26L478.30,121.01L475.20,121.01ZM480.25,124.26L481.80,121.01L478.70,121.01ZM483.75,124.26L485.30,121.01L482.20,121.01ZM487.25,124.26L488.80,121.01L485.70,121.01ZM482.10,126.76L483.65,123.51L480.55,123.51Z"/>
</svg>
</body></html>
